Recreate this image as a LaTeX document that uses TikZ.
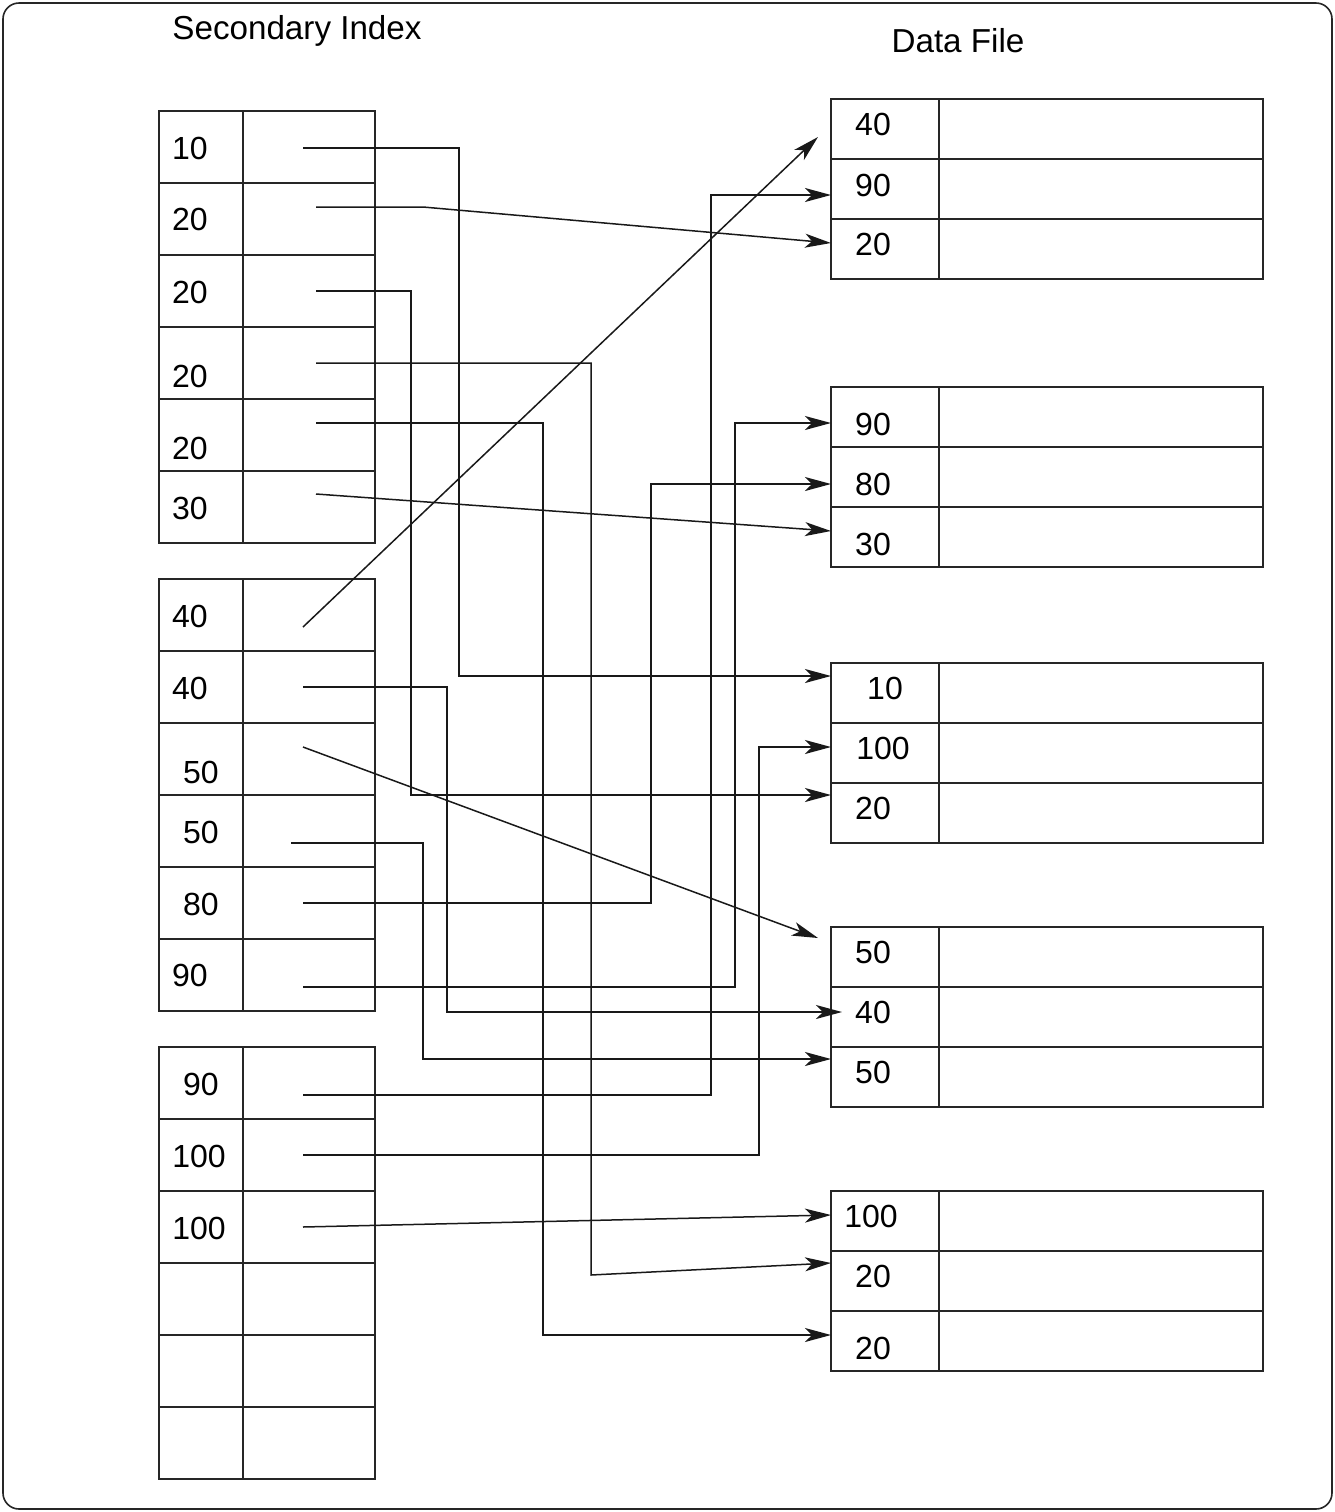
\documentclass[tikz,border=0pt]{standalone}
\usepackage{fontspec}
\setmainfont{Liberation Sans}
\usetikzlibrary{arrows.meta,calc}
\begin{document}
\begin{tikzpicture}[x=0.5pt,y=-0.5pt,
  cell/.style={draw=black!85,line width=0.9pt,inner sep=0pt,outer sep=0pt,anchor=north west},
  ikey/.style={cell,minimum width=42pt,minimum height=36pt},
  iptr/.style={cell,minimum width=66pt,minimum height=36pt},
  dkey/.style={cell,minimum width=54pt,minimum height=30pt},
  dval/.style={cell,minimum width=162pt,minimum height=30pt},
  lbl/.style={font=\fontsize{16}{19}\selectfont,inner sep=0pt},
  ttl/.style={font=\fontsize{16.6}{20}\selectfont,inner sep=0pt,anchor=base},
  link/.style={draw=black!90,line width=0.75pt},
  arr/.style={link,-{Stealth[length=13pt,width=7pt,inset=3.5pt]}}
]
\useasboundingbox (0,0) rectangle (1335,1512);
\draw[draw=black!85,line width=0.8pt,rounded corners=8pt] (3,3) rectangle (1332,1509);

% titles
\node[ttl] (ttlindex) at (297,39) {Secondary Index};
\node[ttl] (ttldata) at (958,52) {Data File};

% index cells
\foreach \n/\y in {1/111,2/183,3/255,4/327,5/399,6/471,7/579,8/651,9/723,10/795,11/867,12/939,13/1047,14/1119,15/1191,16/1263,17/1335,18/1407} {
  \node[ikey] (k\n) at (159,\y) {};
  \node[iptr] (p\n) at (243,\y) {};
}
% data cells
\foreach \n/\y in {1/99,2/159,3/219,4/387,5/447,6/507,7/663,8/723,9/783,10/927,11/987,12/1047,13/1191,14/1251,15/1311} {
  \node[dkey] (d\n) at (831,\y) {};
  \node[dval] (v\n) at (939,\y) {};
}

% index labels
\node[lbl] (tk1) at (190,148) {10};
\node[lbl] (tk2) at (190,219) {20};
\node[lbl] (tk3) at (190,292) {20};
\node[lbl] (tk4) at (190,376) {20};
\node[lbl] (tk5) at (190,448) {20};
\node[lbl] (tk6) at (190,508) {30};
\node[lbl] (tk7) at (190,616) {40};
\node[lbl] (tk8) at (190,688) {40};
\node[lbl] (tk9) at (201,772) {50};
\node[lbl] (tk10) at (201,832) {50};
\node[lbl] (tk11) at (201,904) {80};
\node[lbl] (tk12) at (190,975) {90};
\node[lbl] (tk13) at (201,1084) {90};
\node[lbl] (tk14) at (199,1156) {100};
\node[lbl] (tk15) at (199,1228) {100};

% data labels
\node[lbl] (td1) at (873,124) {40};
\node[lbl] (td2) at (873,185) {90};
\node[lbl] (td3) at (873,244) {20};
\node[lbl] (td4) at (873,424) {90};
\node[lbl] (td5) at (873,484) {80};
\node[lbl] (td6) at (873,544) {30};
\node[lbl] (td7) at (885,688) {10};
\node[lbl] (td8) at (883,748) {100};
\node[lbl] (td9) at (873,808) {20};
\node[lbl] (td10) at (873,952) {50};
\node[lbl] (td11) at (873,1012) {40};
\node[lbl] (td12) at (873,1072) {50};
\node[lbl] (td13) at (871,1216) {100};
\node[lbl] (td14) at (873,1276) {20};
\node[lbl] (td15) at (873,1348) {20};

% pointer start points
\coordinate (s1) at (303,148);
\coordinate (s2) at (316,207);
\coordinate (s3) at (316,291);
\coordinate (s4) at (316,363);
\coordinate (s5) at (316,423);
\coordinate (s6) at (316,494);
\coordinate (s7) at (303,627);
\coordinate (s8) at (303,687);
\coordinate (s9) at (303,747);
\coordinate (s10) at (291,843);
\coordinate (s11) at (303,903);
\coordinate (s12) at (303,987);
\coordinate (s13) at (303,1095);
\coordinate (s14) at (303,1155);
\coordinate (s15) at (303,1227);

% connectors
\draw[arr] (s1) -- (459,148) |- ($(d7.west)+(0,-17)$);
\draw[arr] (s2) -- (423,207) -- ($(d3.west)+(0,-6)$);
\draw[arr] (s3) -- (411,291) |- ($(d9.west)+(0,-18)$);
\draw[arr] (s4) -- (591,363) -- (591,1275) -- ($(d14.west)+(0,-18)$);
\draw[arr] (s5) -- (543,423) |- ($(d15.west)+(0,-6)$);
\draw[arr] (s6) -- ($(d6.west)+(0,-6)$);
\draw[arr] (s7) -- ($(d1.west)+(-13,8)$);
\draw[arr] (s8) -- (447,687) |- ($(d11.west)+(11,-5)$);
\draw[arr] (s9) -- ($(d10.west)+(-13,-19)$);
\draw[arr] (s10) -- (423,843) |- ($(d12.west)+(0,-18)$);
\draw[arr] (s11) -- (651,903) |- ($(d5.west)+(0,7)$);
\draw[arr] (s12) -- (735,987) |- ($(d4.west)+(0,6)$);
\draw[arr] (s13) -- (711,1095) |- ($(d2.west)+(0,6)$);
\draw[arr] (s14) -- (759,1155) |- ($(d8.west)+(0,-6)$);
\draw[arr] (s15) -- ($(d13.west)+(0,-6)$);
\end{tikzpicture}
\end{document}
